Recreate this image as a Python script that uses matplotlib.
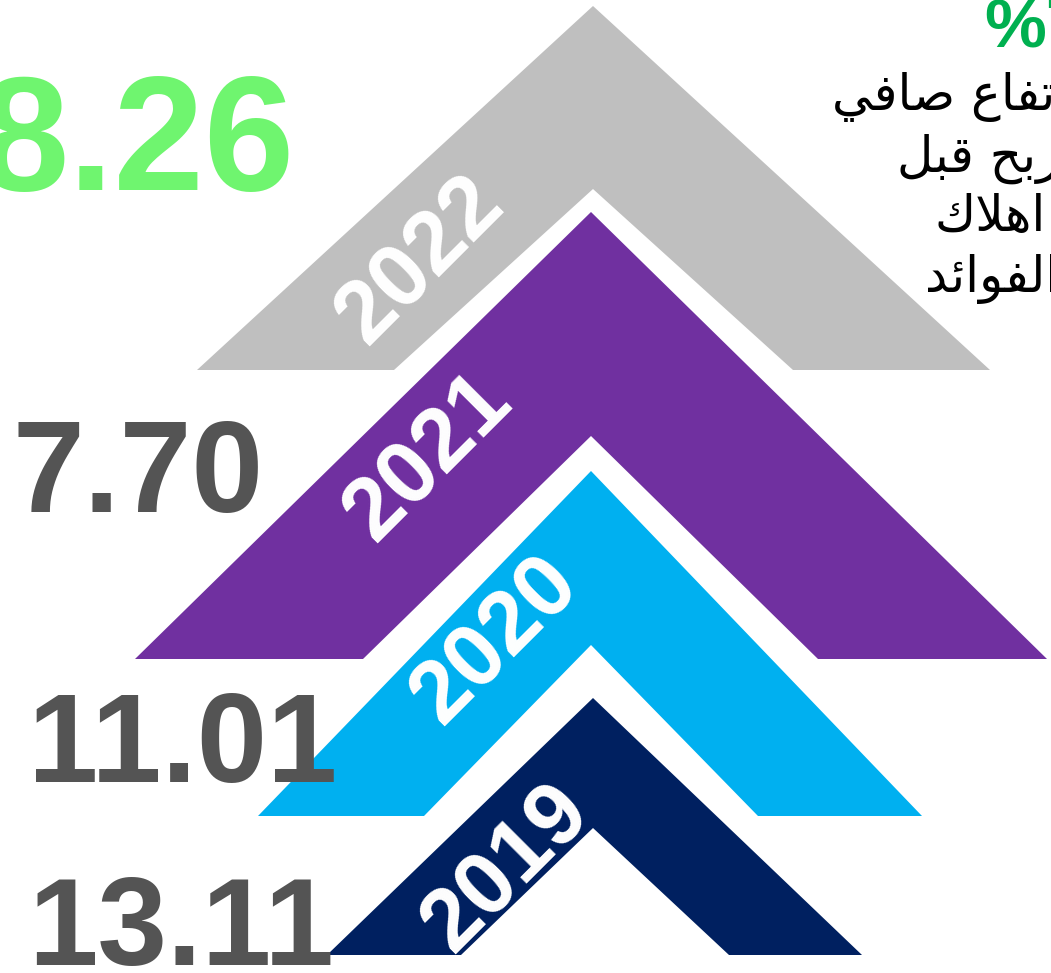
import matplotlib

matplotlib.use("Agg")
import matplotlib.pyplot as plt
from matplotlib.patches import Polygon

# data
years = ["2022", "2021", "2020", "2019"]
values = [8.26, 7.70, 11.01, 13.11]
band_colors = ["#BFBFBF", "#7030A0", "#00B0F0", "#002060"]
value_colors = ["#6FF56F", "#545454", "#545454", "#545454"]
title_lines = ["ارتفاع صافي", "الربح قبل", "اهلاك", "الفوائد"]
change_label = "%7"

# layout (pixel space, y down): apex x, apex y, base y, outer left/right, inner apex y, inner left/right
chevrons = [
    (593, 6, 370, 197, 990, 189, 394, 793),
    (591, 212, 659, 135, 1047, 436, 363, 818),
    (591, 471, 816, 258, 922, 645, 424, 758),
    (593, 698, 955, 327, 862, 828, 461, 729),
]
year_pos = [(421, 260), (429, 457), (496, 640), (507, 868)]
value_pos = [(295, 190, "right", 117), (12, 512, "left", 93), (28, 782, "left", 91), (28, 965, "left", 90)]
title_pos = [(832, 110), (897, 172), (935, 231), (925, 292)]

# minimal arabic shaping: isolated, final, initial, medial
FORMS = {
    "ا": (0xFE8D, 0xFE8E, None, None),
    "ر": (0xFEAD, 0xFEAE, None, None),
    "د": (0xFEA9, 0xFEAA, None, None),
    "و": (0xFEED, 0xFEEE, None, None),
    "ت": (0xFE95, 0xFE96, 0xFE97, 0xFE98),
    "ف": (0xFED1, 0xFED2, 0xFED3, 0xFED4),
    "ع": (0xFEC9, 0xFECA, 0xFECB, 0xFECC),
    "ص": (0xFEB9, 0xFEBA, 0xFEBB, 0xFEBC),
    "ي": (0xFEF1, 0xFEF2, 0xFEF3, 0xFEF4),
    "ل": (0xFEDD, 0xFEDE, 0xFEDF, 0xFEE0),
    "ب": (0xFE8F, 0xFE90, 0xFE91, 0xFE92),
    "ح": (0xFEA1, 0xFEA2, 0xFEA3, 0xFEA4),
    "ق": (0xFED5, 0xFED6, 0xFED7, 0xFED8),
    "ه": (0xFEE9, 0xFEEA, 0xFEEB, 0xFEEC),
    "ك": (0xFED9, 0xFEDA, 0xFEDB, 0xFEDC),
    "ئ": (0xFE89, 0xFE8A, 0xFE8B, 0xFE8C),
}


def shape(text):
    out = []
    i = 0
    while i < len(text):
        c = text[i]
        if c not in FORMS:
            out.append(c)
            i += 1
            continue
        prev = text[i - 1] if i > 0 else None
        joins_prev = prev in FORMS and FORMS[prev][2] is not None
        if c == "ل" and i + 1 < len(text) and text[i + 1] == "ا":
            out.append(chr(0xFEFC if joins_prev else 0xFEFB))
            i += 2
            continue
        nxt = text[i + 1] if i + 1 < len(text) else None
        iso, fin, ini, med = FORMS[c]
        joins_next = ini is not None and nxt in FORMS
        if joins_prev and joins_next:
            g = med
        elif joins_prev:
            g = fin
        elif joins_next:
            g = ini
        else:
            g = iso
        out.append(chr(g))
        i += 1
    return "".join(reversed(out))


fig = plt.figure(figsize=(10.51, 9.73), dpi=100)
ax = fig.add_axes([0, 0, 1, 1])
ax.set_xlim(0, 1051)
ax.set_ylim(973, 0)
ax.axis("off")

for (cx, top, base, ol, orr, itop, il, ir), color in zip(chevrons, band_colors):
    pts = [(ol, base), (cx, top), (orr, base), (ir, base), (cx, itop), (il, base)]
    ax.add_patch(Polygon(pts, closed=True, facecolor=color, edgecolor="none"))

for year, (x, y) in zip(years, year_pos):
    ax.text(x, y, year, color="white", fontsize=64, fontweight="bold", family="Liberation Sans",
            rotation=45, rotation_mode="anchor", ha="center", va="center")

for val, color, (x, y, ha, size) in zip(values, value_colors, value_pos):
    ax.text(x, y, f"{val:.2f}", color=color, fontsize=size, fontweight="bold",
            family="Liberation Sans", ha=ha, va="baseline")

for line, (x, y) in zip(title_lines, title_pos):
    ax.text(x, y, shape(line), color="black", fontsize=36, family="DejaVu Sans", ha="left", va="baseline")

ax.text(984, 47, change_label, color="#00B050", fontsize=50, fontweight="bold",
        family="Liberation Sans", ha="left", va="baseline")

fig.savefig("out.png", dpi=100)
